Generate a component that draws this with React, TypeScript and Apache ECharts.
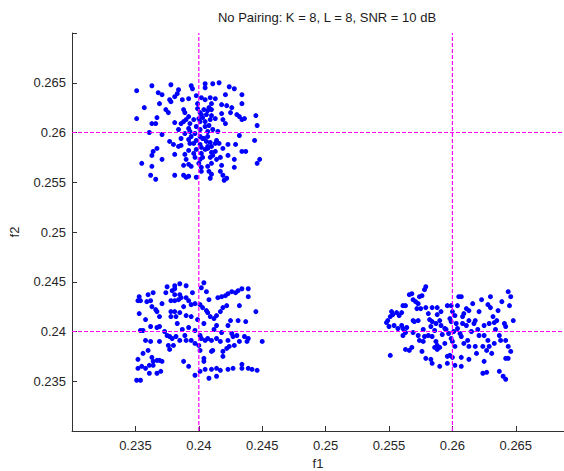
import React, { useEffect, useRef } from "react";
import * as echarts from "echarts";

const titleText = "No Pairing: K = 8, L = 8, SNR = 10 dB";
const xName = "f1";
const yName = "f2";
const xMin = 0.23;
const xMax = 0.2688;
const yMin = 0.23;
const yMax = 0.27;
const tickStep = 0.005;
const refX = [0.24, 0.26];
const refY = [0.24, 0.26];

const cluster1: number[][] = [
  [0.2351, 0.2642], [0.2363, 0.2647], [0.2378, 0.2648], [0.2368, 0.264], [0.2371, 0.2638], [0.2383, 0.2639],
  [0.2384, 0.2643], [0.2394, 0.2647], [0.2395, 0.2644], [0.2405, 0.2649], [0.2405, 0.2645], [0.2411, 0.2649],
  [0.2416, 0.265], [0.2424, 0.2646], [0.2428, 0.2644], [0.2381, 0.2636], [0.2398, 0.2637], [0.2402, 0.2635],
  [0.2405, 0.2633], [0.2409, 0.2635], [0.2413, 0.2634], [0.2421, 0.2638], [0.2434, 0.2638], [0.2377, 0.2633],
  [0.2378, 0.2631], [0.2387, 0.2633], [0.2392, 0.2634], [0.2369, 0.2629], [0.2399, 0.2629], [0.241, 0.2629],
  [0.2408, 0.2625], [0.2418, 0.2628], [0.2422, 0.2627], [0.2434, 0.2629], [0.2357, 0.2625], [0.2374, 0.2623],
  [0.2376, 0.262], [0.2388, 0.2623], [0.2389, 0.262], [0.2399, 0.2624], [0.2401, 0.262], [0.2404, 0.2623],
  [0.2407, 0.2622], [0.241, 0.2623], [0.2426, 0.2625], [0.2425, 0.262], [0.2418, 0.2619], [0.243, 0.2618],
  [0.2432, 0.2616], [0.2436, 0.2614], [0.2434, 0.2613], [0.2445, 0.2617], [0.2351, 0.2614], [0.2367, 0.2615],
  [0.2363, 0.2609], [0.2366, 0.2609], [0.2381, 0.261], [0.2386, 0.2609], [0.2388, 0.2611], [0.239, 0.2613],
  [0.2393, 0.2609], [0.2396, 0.2613], [0.24, 0.2614], [0.2403, 0.2615], [0.2409, 0.2613], [0.2413, 0.2614],
  [0.2419, 0.2613], [0.2421, 0.2609], [0.2446, 0.2607], [0.2384, 0.2603], [0.2392, 0.2604], [0.2393, 0.2601],
  [0.2401, 0.2603], [0.2405, 0.2606], [0.2407, 0.2601], [0.2411, 0.2603], [0.2415, 0.2601], [0.2361, 0.26],
  [0.2371, 0.2598], [0.2432, 0.2597], [0.2444, 0.2592], [0.2377, 0.2591], [0.238, 0.2588], [0.2384, 0.2586],
  [0.2386, 0.2587], [0.2392, 0.2593], [0.2393, 0.2589], [0.2396, 0.2589], [0.2398, 0.2592], [0.2401, 0.2588],
  [0.2403, 0.2594], [0.2406, 0.2591], [0.2407, 0.2586], [0.241, 0.2586], [0.2413, 0.2589], [0.2414, 0.2592],
  [0.2416, 0.2589], [0.2367, 0.2584], [0.2364, 0.2581], [0.2363, 0.2577], [0.2392, 0.2582], [0.2398, 0.2583],
  [0.2402, 0.2579], [0.2405, 0.2583], [0.2407, 0.2584], [0.241, 0.258], [0.2413, 0.2581], [0.2419, 0.2584],
  [0.2423, 0.2588], [0.2429, 0.2588], [0.2434, 0.2581], [0.2437, 0.2581], [0.2371, 0.2573], [0.2381, 0.2578],
  [0.239, 0.2573], [0.2397, 0.2575], [0.2401, 0.2573], [0.2403, 0.2575], [0.2409, 0.2575], [0.2414, 0.2573],
  [0.2417, 0.2575], [0.2423, 0.2577], [0.2428, 0.2573], [0.2448, 0.2573], [0.2446, 0.2569], [0.2355, 0.2569],
  [0.2363, 0.2566], [0.2388, 0.2567], [0.2392, 0.2568], [0.2394, 0.2566], [0.24, 0.2569], [0.2402, 0.2565],
  [0.2407, 0.2566], [0.241, 0.2569], [0.2418, 0.2567], [0.2428, 0.2565], [0.2402, 0.2561], [0.2408, 0.2561],
  [0.2417, 0.2561], [0.2419, 0.2557], [0.2362, 0.2557], [0.2366, 0.2553], [0.2381, 0.2557], [0.2388, 0.2557],
  [0.239, 0.2555], [0.2392, 0.2556], [0.2398, 0.2555], [0.2409, 0.2554], [0.241, 0.2558], [0.242, 0.2552],
  [0.2422, 0.2554], [0.2401, 0.2611], [0.2405, 0.2611], [0.2406, 0.2618], [0.2402, 0.2618], [0.2404, 0.2594],
  [0.2401, 0.2596], [0.2407, 0.2596], [0.2402, 0.2585], [0.2394, 0.2596], [0.2397, 0.2599], [0.2389, 0.2599],
  [0.2386, 0.2594], [0.2409, 0.259], [0.2396, 0.2579], [0.2389, 0.2578], [0.2411, 0.2577], [0.2408, 0.2607],
  [0.2398, 0.2606], [0.2392, 0.2616], [0.241, 0.2617],
];

const cluster2: number[][] = [
  [0.2381, 0.2446], [0.2381, 0.2443], [0.2385, 0.2448], [0.239, 0.2446], [0.2402, 0.2444], [0.2404, 0.2449],
  [0.2406, 0.244], [0.2353, 0.2435], [0.236, 0.2437], [0.2364, 0.2439], [0.2374, 0.2439], [0.2381, 0.2437],
  [0.2385, 0.2437], [0.2352, 0.2431], [0.2354, 0.2431], [0.2359, 0.243], [0.2362, 0.2431], [0.2363, 0.2425],
  [0.2366, 0.2422], [0.2367, 0.242], [0.2353, 0.2418], [0.2378, 0.2431], [0.2381, 0.2431], [0.2384, 0.2432],
  [0.2386, 0.2434], [0.239, 0.2434], [0.2392, 0.2431], [0.2394, 0.2427], [0.2397, 0.2428], [0.2401, 0.2427],
  [0.2403, 0.2424], [0.2406, 0.2421], [0.2407, 0.2419], [0.2409, 0.2415], [0.2412, 0.2413], [0.2415, 0.2434],
  [0.2418, 0.2435], [0.2421, 0.2436], [0.2423, 0.2438], [0.2426, 0.244], [0.2429, 0.2439], [0.2431, 0.2441],
  [0.2434, 0.2443], [0.2439, 0.2443], [0.2439, 0.2435], [0.2422, 0.2426], [0.2419, 0.2424], [0.2417, 0.242],
  [0.2414, 0.2416], [0.2432, 0.2426], [0.2445, 0.242], [0.2369, 0.2415], [0.2378, 0.242], [0.2381, 0.242],
  [0.2385, 0.2419], [0.239, 0.2416], [0.2394, 0.2415], [0.2378, 0.2415], [0.2382, 0.2415], [0.2399, 0.2412],
  [0.2425, 0.2411], [0.2431, 0.2411], [0.2437, 0.241], [0.2354, 0.2401], [0.2356, 0.2401], [0.2362, 0.2405],
  [0.2367, 0.2404], [0.2369, 0.2405], [0.2373, 0.24], [0.2375, 0.2396], [0.2377, 0.2395], [0.2379, 0.2393],
  [0.2382, 0.2395], [0.2385, 0.2391], [0.2389, 0.2396], [0.239, 0.2391], [0.2394, 0.2391], [0.2397, 0.2388],
  [0.2401, 0.2396], [0.2402, 0.2393], [0.2405, 0.2391], [0.2407, 0.2393], [0.241, 0.2391], [0.2414, 0.2393],
  [0.2417, 0.239], [0.2414, 0.2406], [0.2423, 0.2406], [0.2358, 0.2391], [0.2362, 0.239], [0.2369, 0.239],
  [0.2376, 0.2386], [0.2377, 0.2382], [0.238, 0.2386], [0.2423, 0.2391], [0.2427, 0.2395], [0.243, 0.2396],
  [0.2436, 0.2395], [0.2439, 0.2393], [0.2438, 0.239], [0.2432, 0.239], [0.2428, 0.2386], [0.2422, 0.2383],
  [0.2419, 0.238], [0.2419, 0.2375], [0.2424, 0.2385], [0.245, 0.239], [0.2356, 0.2378], [0.236, 0.2381],
  [0.2352, 0.2372], [0.2363, 0.2374], [0.2364, 0.237], [0.2367, 0.2371], [0.2369, 0.2371], [0.2371, 0.237],
  [0.2355, 0.2365], [0.2358, 0.2363], [0.2352, 0.2363], [0.2361, 0.2366], [0.2364, 0.2366], [0.2388, 0.237],
  [0.2392, 0.2365], [0.2404, 0.2373], [0.2404, 0.237], [0.241, 0.238], [0.2411, 0.2381], [0.2405, 0.2362],
  [0.241, 0.2362], [0.2414, 0.2363], [0.2417, 0.2361], [0.2423, 0.2362], [0.2427, 0.2363], [0.2434, 0.2367],
  [0.2434, 0.2363], [0.2439, 0.2363], [0.2442, 0.2362], [0.2446, 0.2361], [0.2361, 0.2358], [0.2367, 0.2358],
  [0.237, 0.236], [0.2397, 0.2356], [0.2401, 0.236], [0.2408, 0.2353], [0.2414, 0.2355], [0.2351, 0.2351],
  [0.2354, 0.2351], [0.24, 0.2386], [0.2401, 0.2381], [0.2397, 0.2401], [0.2387, 0.2402], [0.2392, 0.2404],
  [0.2412, 0.2402], [0.2418, 0.2399], [0.2426, 0.2398], [0.2375, 0.2445], [0.2379, 0.2441], [0.2395, 0.2439],
  [0.2371, 0.2428], [0.2388, 0.2425], [0.2408, 0.2432], [0.2358, 0.2412], [0.2383, 0.2408], [0.2404, 0.2408],
];

const cluster3: number[][] = [
  [0.2579, 0.2445], [0.2578, 0.2442], [0.2566, 0.2437], [0.2568, 0.2438], [0.2574, 0.2435], [0.2576, 0.2436],
  [0.2569, 0.2432], [0.2571, 0.243], [0.2573, 0.2428], [0.2561, 0.2426], [0.2563, 0.2426], [0.2572, 0.2423],
  [0.2575, 0.2423], [0.2579, 0.2424], [0.2584, 0.2424], [0.2588, 0.2424], [0.2591, 0.242], [0.2599, 0.2426],
  [0.2604, 0.2426], [0.26, 0.242], [0.2602, 0.2416], [0.2607, 0.2435], [0.2611, 0.2423], [0.2613, 0.2421],
  [0.2609, 0.2418], [0.2608, 0.2415], [0.2623, 0.2432], [0.263, 0.2435], [0.2628, 0.2427], [0.263, 0.2424],
  [0.2621, 0.242], [0.2639, 0.243], [0.2644, 0.244], [0.2646, 0.2435], [0.2645, 0.2426], [0.2549, 0.2411],
  [0.2551, 0.2415], [0.2553, 0.2417], [0.2556, 0.2419], [0.2552, 0.242], [0.2558, 0.2416], [0.256, 0.2419],
  [0.2554, 0.2406], [0.2557, 0.2403], [0.256, 0.2406], [0.2561, 0.2403], [0.2564, 0.2404], [0.2569, 0.2411],
  [0.257, 0.241], [0.2573, 0.2411], [0.2582, 0.2412], [0.2584, 0.241], [0.2583, 0.2405], [0.2587, 0.2408],
  [0.259, 0.2411], [0.2591, 0.2406], [0.2594, 0.2403], [0.2599, 0.241], [0.2603, 0.2408], [0.2604, 0.2403],
  [0.2608, 0.2408], [0.2611, 0.2406], [0.2613, 0.2411], [0.2618, 0.2411], [0.2617, 0.2408], [0.2632, 0.2415],
  [0.2635, 0.2411], [0.2633, 0.2409], [0.2629, 0.2408], [0.2625, 0.2406], [0.2641, 0.2408], [0.2642, 0.2405],
  [0.2648, 0.2411], [0.2561, 0.2396], [0.2563, 0.2399], [0.2573, 0.2396], [0.2574, 0.2391], [0.2577, 0.239],
  [0.2578, 0.2395], [0.2581, 0.2396], [0.2584, 0.2395], [0.2587, 0.239], [0.2588, 0.2386], [0.259, 0.2384],
  [0.2586, 0.2384], [0.2588, 0.2382], [0.2597, 0.2398], [0.2599, 0.2393], [0.26, 0.239], [0.2602, 0.2385],
  [0.2598, 0.2376], [0.26, 0.2374], [0.2596, 0.2375], [0.2607, 0.2395], [0.2612, 0.2391], [0.2613, 0.2385],
  [0.2618, 0.2385], [0.2621, 0.2396], [0.2625, 0.2396], [0.2628, 0.2391], [0.2624, 0.2385], [0.2627, 0.2381],
  [0.2629, 0.2385], [0.2633, 0.2388], [0.2631, 0.2378], [0.2637, 0.2396], [0.2638, 0.2391], [0.2642, 0.2391],
  [0.2644, 0.2385], [0.2646, 0.238], [0.2642, 0.2373], [0.2644, 0.2373], [0.2563, 0.2382], [0.2566, 0.2381],
  [0.2568, 0.2384], [0.2551, 0.2376], [0.2576, 0.238], [0.2579, 0.2373], [0.2583, 0.2372], [0.2584, 0.2368],
  [0.259, 0.2365], [0.2596, 0.2368], [0.2602, 0.2366], [0.2607, 0.2365], [0.2607, 0.2374], [0.2613, 0.2372],
  [0.2625, 0.237], [0.2624, 0.2358], [0.2627, 0.2359], [0.2637, 0.236], [0.264, 0.2355], [0.2642, 0.2352],
  [0.255, 0.2405], [0.2548, 0.2409], [0.2595, 0.2402], [0.2601, 0.24], [0.2606, 0.2398], [0.2592, 0.2397],
  [0.2586, 0.2401], [0.2615, 0.24], [0.262, 0.2402], [0.2598, 0.2413], [0.2588, 0.2417], [0.2577, 0.2402],
  [0.2569, 0.2399], [0.2634, 0.2402], [0.2609, 0.2388], [0.2594, 0.2388], [0.2605, 0.2435], [0.2596, 0.2426],
  [0.2616, 0.2428], [0.2636, 0.2421], [0.2619, 0.2378], [0.2581, 0.2418],
];

const near = (a: number, b: number) => Math.abs(a - b) < 1e-9;
const xFmt = (v: number) => {
  const r = Number(v.toFixed(3));
  if (near(r, xMin) || v > 0.2651) return "";
  return String(r);
};
const yFmt = (v: number) => {
  const r = Number(v.toFixed(3));
  if (near(r, yMin) || near(r, yMax)) return "";
  return String(r);
};

export default function App() {
  const ref = useRef<HTMLDivElement>(null);
  useEffect(() => {
    if (!ref.current) return;
    const chart = echarts.init(ref.current, undefined, { renderer: "svg" });
    const font = "'Liberation Sans', Arial, sans-serif";
    const lineCol = "#333333";
    const textCol = "#262626";
    const axisCommon = {
      type: "value" as const,
      interval: tickStep,
      axisLine: { show: true, onZero: false, lineStyle: { color: lineCol, width: 1 } },
      axisTick: { show: true, inside: true, length: 5, lineStyle: { color: lineCol } },
      splitLine: { show: false },
      nameLocation: "middle" as const,
      nameTextStyle: { color: textCol, fontSize: 13, fontFamily: font },
    };
    const dots = (d: number[][]) => ({
      type: "scatter" as const,
      data: d,
      symbol: "circle",
      symbolSize: 5,
      itemStyle: { color: "#0000ff", opacity: 1 },
      silent: true,
      z: 2,
    });
    const guide = (pts: number[][]) => ({
      type: "line" as const,
      data: pts,
      symbol: "none",
      silent: true,
      z: 3,
      lineStyle: { color: "#ff00ff", type: [4, 2], width: 1.2, opacity: 1 },
      itemStyle: { color: "#ff00ff" },
    });
    chart.setOption({
      animation: false,
      backgroundColor: "#ffffff",
      grid: { left: 72, right: 0, top: 33, bottom: 40, containLabel: false, outerBoundsMode: "none" },
      xAxis: {
        ...axisCommon,
        min: xMin,
        max: xMax,
        name: xName,
        nameGap: 22,
        axisLabel: { color: textCol, fontSize: 13, fontFamily: font, margin: 8, formatter: xFmt, showMaxLabel: false },
      },
      yAxis: {
        ...axisCommon,
        min: yMin,
        max: yMax,
        name: yName,
        nameGap: 51,
        axisLabel: { color: textCol, fontSize: 13, fontFamily: font, margin: 6, formatter: yFmt },
      },
      graphic: [
        {
          type: "text",
          x: 327,
          y: 17,
          style: { text: titleText, fill: "#1a1a1a", fontSize: 13, fontFamily: font, textAlign: "center", textVerticalAlign: "middle" },
        },
      ],
      series: [
        dots(cluster1),
        dots(cluster2),
        dots(cluster3),
        ...refY.map((v) => guide([[xMin, v], [xMax, v]])),
        ...refX.map((v) => guide([[v, yMin], [v, yMax]])),
      ],
    });
    return () => chart.dispose();
  }, []);
  return <div ref={ref} style={{ position: "absolute", left: 0, top: 0, width: 564, height: 471 }} />;
}
